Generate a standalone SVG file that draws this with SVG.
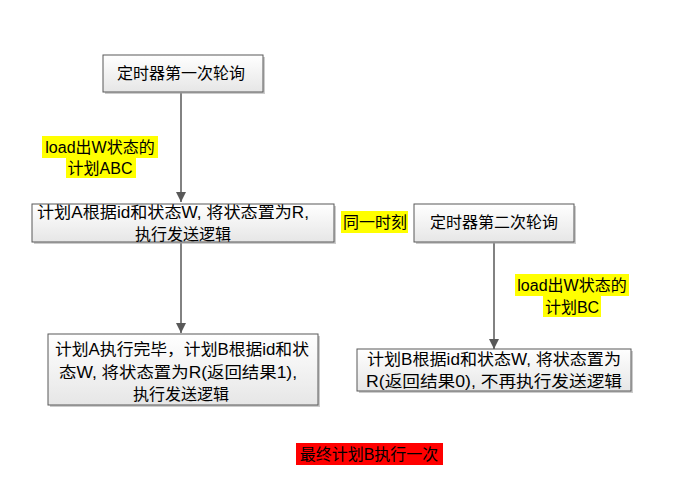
<svg xmlns="http://www.w3.org/2000/svg" width="682" height="488" viewBox="0 0 682 488">
<defs>
<linearGradient id="g" x1="0" y1="0" x2="0" y2="1">
<stop offset="0" stop-color="#ffffff"/>
<stop offset="1" stop-color="#e6e6e6"/>
</linearGradient>
<marker id="ah" markerWidth="12" markerHeight="12" refX="10" refY="5" orient="auto" markerUnits="userSpaceOnUse">
<path d="M0,0 L10,5 L0,10 z" fill="#595959"/>
</marker>
</defs>
<style>
text{font-family:"Liberation Sans","Noto Sans CJK SC",sans-serif;font-size:16px;fill:#000;text-anchor:middle;dominant-baseline:central}
.box{fill:url(#g);stroke:#595959;stroke-width:1}
.sh{fill:#999;opacity:0.5}
.conn{stroke:#595959;stroke-width:1.5;fill:none}
.hl{fill:#ffff00}
.red{fill:#ff0000}
</style>
<rect width="682" height="488" fill="#fff"/>
<g id="connectors">
<line class="conn" x1="181" y1="93" x2="181" y2="202" marker-end="url(#ah)"/>
<line class="conn" x1="181" y1="243" x2="181" y2="333" marker-end="url(#ah)"/>
<line class="conn" x1="494" y1="243" x2="494" y2="349" marker-end="url(#ah)"/>
</g>
<g id="n1">
<rect class="sh" x="105" y="57" width="160" height="37"/>
<rect class="box" x="103" y="55" width="160" height="37"/>
<text x="181" y="73">定时器第一次轮询</text>
</g>
<g id="label1">
<rect class="hl" x="42" y="136" width="116" height="22"/>
<rect class="hl" x="66" y="158" width="70" height="20"/>
<text x="100" y="147">load出W状态的</text>
<text x="100" y="168">计划ABC</text>
</g>
<g id="n2">
<rect class="sh" x="34" y="206" width="302" height="38"/>
<rect class="box" x="32" y="204" width="302" height="38"/>
<text x="173" y="212" textLength="272" lengthAdjust="spacingAndGlyphs">计划A根据id和状态W, 将状态置为R,</text>
<text x="183" y="234">执行发送逻辑</text>
</g>
<g id="label2">
<rect class="hl" x="341" y="211" width="67" height="22"/>
<text x="375" y="222">同一时刻</text>
</g>
<g id="n3">
<rect class="sh" x="416" y="206" width="160" height="38"/>
<rect class="box" x="414" y="204" width="160" height="38"/>
<text x="494" y="222">定时器第二次轮询</text>
</g>
<g id="label3">
<rect class="hl" x="515" y="274" width="114" height="22"/>
<rect class="hl" x="543" y="296" width="58" height="21"/>
<text x="572" y="285">load出W状态的</text>
<text x="572" y="307">计划BC</text>
</g>
<g id="n4">
<rect class="sh" x="50" y="336" width="270" height="71"/>
<rect class="box" x="48" y="334" width="270" height="71"/>
<text x="182" y="349" textLength="254" lengthAdjust="spacingAndGlyphs">计划A执行完毕，计划B根据id和状</text>
<text x="178" y="372" textLength="238" lengthAdjust="spacingAndGlyphs">态W, 将状态置为R(返回结果1),</text>
<text x="181" y="394">执行发送逻辑</text>
</g>
<g id="n5">
<rect class="sh" x="359" y="351" width="274" height="42"/>
<rect class="box" x="357" y="349" width="274" height="42"/>
<text x="494" y="359" textLength="254" lengthAdjust="spacingAndGlyphs">计划B根据id和状态W, 将状态置为</text>
<text x="494" y="381" textLength="256" lengthAdjust="spacingAndGlyphs">R(返回结果0), 不再执行发送逻辑</text>
</g>
<g id="label4">
<rect class="red" x="296" y="443" width="147" height="22"/>
<text x="369" y="454">最终计划B执行一次</text>
</g>
</svg>
